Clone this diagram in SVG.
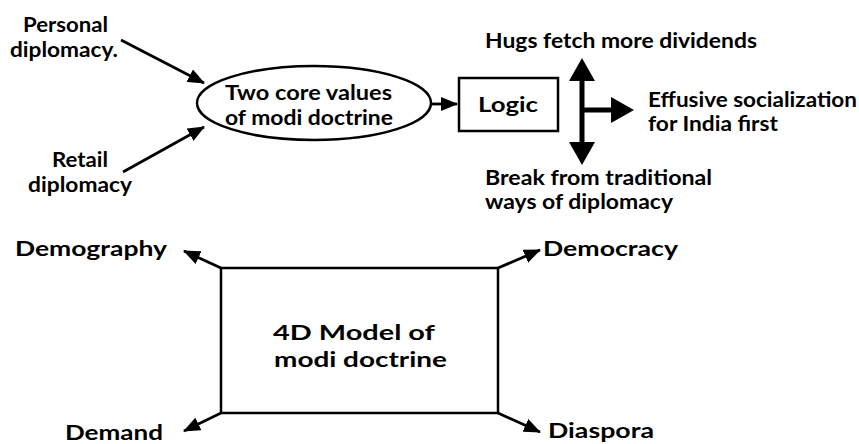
<svg xmlns="http://www.w3.org/2000/svg" width="859" height="444" viewBox="0 0 859 444">
<defs>
<marker id="ah" markerWidth="17" markerHeight="14" refX="16" refY="7" orient="auto" markerUnits="userSpaceOnUse">
<path d="M0,0 L17,7 L0,14 Z" fill="#000"/>
</marker>
<style>
.t{font-family:Lato,"Open Sans","Liberation Sans",sans-serif;font-weight:bold;font-size:20.5px;fill:#000}
.ln{stroke:#000;stroke-width:2.8;fill:none}
.box{stroke:#000;stroke-width:2.5;fill:#fff}
</style>
</defs>
<rect width="859" height="444" fill="#fff"/>
<g id="connectors">
<line class="ln" x1="121" y1="40" x2="204" y2="83" marker-end="url(#ah)"/>
<line class="ln" x1="123" y1="172" x2="204" y2="127" marker-end="url(#ah)"/>
<line class="ln" x1="432" y1="104" x2="457" y2="104" marker-end="url(#ah)"/>
<line x1="582" y1="78" x2="582" y2="146" stroke="#000" stroke-width="5"/>
<polygon points="582,58 569,81 595,81" fill="#000"/>
<polygon points="582,165 569,142 595,142" fill="#000"/>
<line x1="582" y1="110" x2="613" y2="110" stroke="#000" stroke-width="5"/>
<polygon points="634,110 611,97 611,123" fill="#000"/>
<line class="ln" x1="221" y1="268" x2="184" y2="251" marker-end="url(#ah)"/>
<line class="ln" x1="221" y1="413" x2="184" y2="431" marker-end="url(#ah)"/>
<line class="ln" x1="498" y1="268" x2="540" y2="250" marker-end="url(#ah)"/>
<line class="ln" x1="498" y1="413" x2="540" y2="432" marker-end="url(#ah)"/>
</g>
<g id="personal">
<text class="t" x="23" y="32" textLength="85" lengthAdjust="spacingAndGlyphs">Personal</text>
<text class="t" x="10" y="57" textLength="108" lengthAdjust="spacingAndGlyphs">diplomacy.</text>
</g>
<g id="retail">
<text class="t" x="52" y="167" textLength="56" lengthAdjust="spacingAndGlyphs">Retail</text>
<text class="t" x="28" y="192" textLength="104" lengthAdjust="spacingAndGlyphs">diplomacy</text>
</g>
<g id="core">
<ellipse cx="314" cy="103" rx="117" ry="37" class="box"/>
<text class="t" x="225" y="100" textLength="167" lengthAdjust="spacingAndGlyphs">Two core values</text>
<text class="t" x="225" y="125" textLength="168" lengthAdjust="spacingAndGlyphs">of modi doctrine</text>
</g>
<g id="logic">
<rect x="459" y="78" width="99" height="53" class="box"/>
<text class="t" x="478" y="112" textLength="60" lengthAdjust="spacingAndGlyphs">Logic</text>
</g>
<g id="hugs">
<text class="t" x="485" y="48" textLength="272" lengthAdjust="spacingAndGlyphs">Hugs fetch more dividends</text>
</g>
<g id="effusive">
<text class="t" x="648" y="107" textLength="209" lengthAdjust="spacingAndGlyphs">Effusive socialization</text>
<text class="t" x="648" y="131" textLength="130" lengthAdjust="spacingAndGlyphs">for India first</text>
</g>
<g id="break">
<text class="t" x="485" y="185" textLength="227" lengthAdjust="spacingAndGlyphs">Break from traditional</text>
<text class="t" x="485" y="209" textLength="188" lengthAdjust="spacingAndGlyphs">ways of diplomacy</text>
</g>
<g id="model">
<rect x="221" y="268" width="277" height="145" class="box"/>
<text class="t" x="273" y="340" textLength="162" lengthAdjust="spacingAndGlyphs">4D Model of</text>
<text class="t" x="274" y="367" textLength="173" lengthAdjust="spacingAndGlyphs">modi doctrine</text>
</g>
<g id="demography"><text class="t" x="15" y="256" textLength="152" lengthAdjust="spacingAndGlyphs">Demography</text></g>
<g id="demand"><text class="t" x="65" y="440" textLength="98" lengthAdjust="spacingAndGlyphs">Demand</text></g>
<g id="democracy"><text class="t" x="543" y="256" textLength="135" lengthAdjust="spacingAndGlyphs">Democracy</text></g>
<g id="diaspora"><text class="t" x="548" y="438" textLength="106" lengthAdjust="spacingAndGlyphs">Diaspora</text></g>
</svg>
